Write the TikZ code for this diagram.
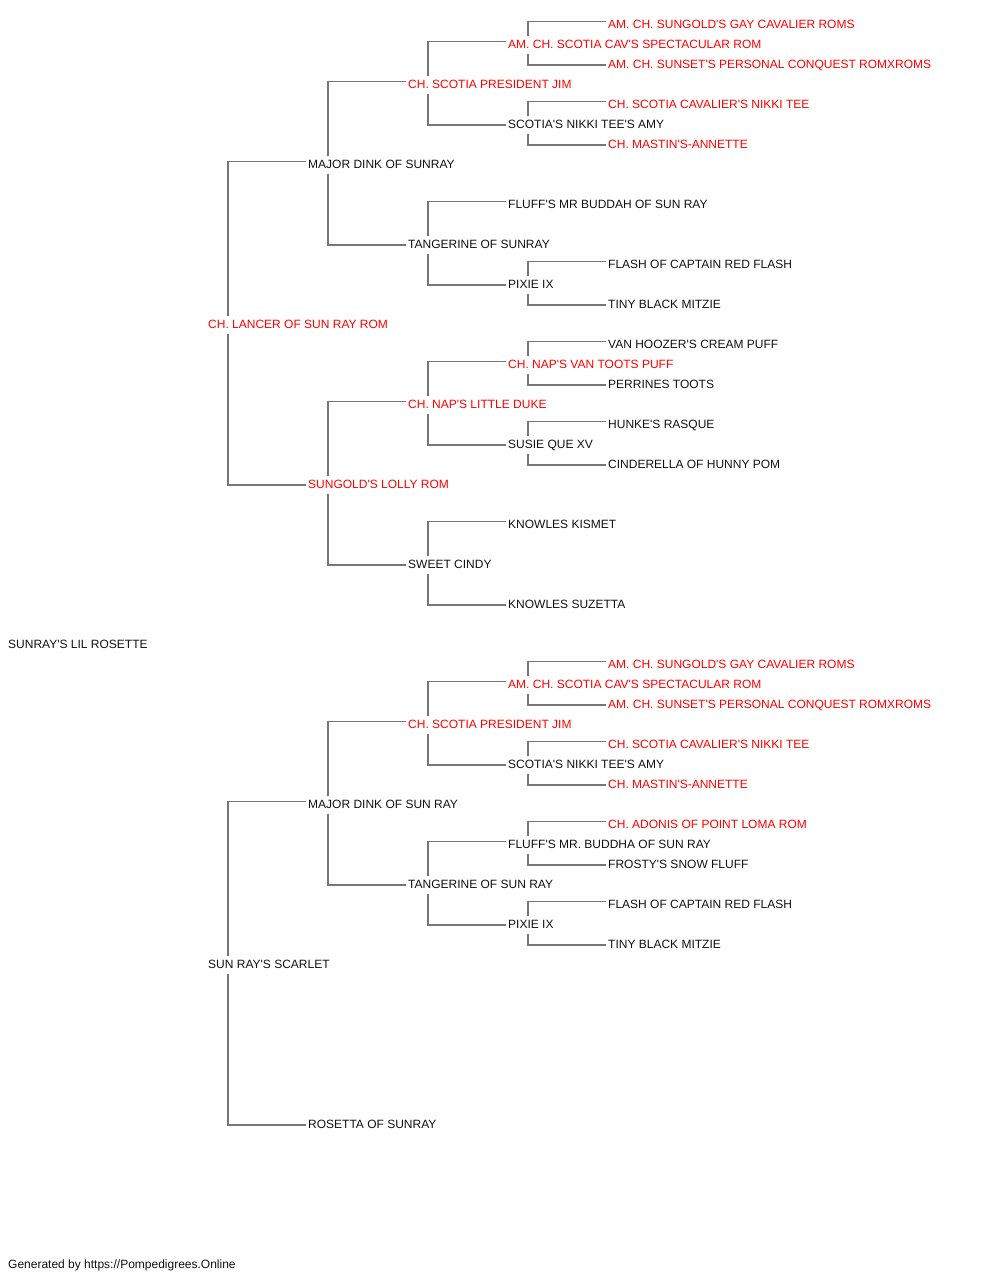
\documentclass[tikz,border=0pt]{standalone}
\usepackage{fontspec}
\setmainfont{Liberation Sans}[Ligatures=TeXOff]
\usetikzlibrary{positioning}
\definecolor{linegray}{RGB}{118,118,118}
\definecolor{champred}{RGB}{255,0,0}
\definecolor{dogblack}{RGB}{17,17,17}
\tikzset{
  dog/.style={
    anchor=base west,
    inner xsep=2pt,
    inner ysep=0pt,
    text height=11.8pt,
    text depth=6.2pt,
    text=dogblack,
    font=\fontsize{12}{14}\selectfont
  },
  champ/.style={dog, text=champred},
  link/.style={draw=linegray, line width=1.5pt}
}
\begin{document}
\begin{tikzpicture}[x=1pt, y=-1pt]
  \useasboundingbox (0,0) rectangle (1000,1280);

  % generation 0 and 1
  \node[dog] (p) at (6,648) {SUNRAY'S LIL ROSETTE};
  \node[champ] (s) at (206,328) {CH. LANCER OF SUN RAY ROM};
  \node[dog] (d) at (206,968) {SUN RAY'S SCARLET};

  % generation 2
  \node[dog] (ss) at (306,168) {MAJOR DINK OF SUNRAY};
  \node[champ] (sd) at (306,488) {SUNGOLD'S LOLLY ROM};
  \node[dog] (ds) at (306,808) {MAJOR DINK OF SUN RAY};
  \node[dog] (dd) at (306,1128) {ROSETTA OF SUNRAY};

  % generation 3
  \node[champ] (sss) at (406,88) {CH. SCOTIA PRESIDENT JIM};
  \node[dog] (ssd) at (406,248) {TANGERINE OF SUNRAY};
  \node[champ] (sds) at (406,408) {CH. NAP'S LITTLE DUKE};
  \node[dog] (sdd) at (406,568) {SWEET CINDY};
  \node[champ] (dss) at (406,728) {CH. SCOTIA PRESIDENT JIM};
  \node[dog] (dsd) at (406,888) {TANGERINE OF SUN RAY};

  % generation 4
  \node[champ] (ssss) at (506,48) {AM. CH. SCOTIA CAV'S SPECTACULAR ROM};
  \node[dog] (sssd) at (506,128) {SCOTIA'S NIKKI TEE'S AMY};
  \node[dog] (ssds) at (506,208) {FLUFF'S MR BUDDAH OF SUN RAY};
  \node[dog] (ssdd) at (506,288) {PIXIE IX};
  \node[champ] (sdss) at (506,368) {CH. NAP'S VAN TOOTS PUFF};
  \node[dog] (sdsd) at (506,448) {SUSIE QUE XV};
  \node[dog] (sdds) at (506,528) {KNOWLES KISMET};
  \node[dog] (sddd) at (506,608) {KNOWLES SUZETTA};
  \node[champ] (dsss) at (506,688) {AM. CH. SCOTIA CAV'S SPECTACULAR ROM};
  \node[dog] (dssd) at (506,768) {SCOTIA'S NIKKI TEE'S AMY};
  \node[dog] (dsds) at (506,848) {FLUFF'S MR. BUDDHA OF SUN RAY};
  \node[dog] (dsdd) at (506,928) {PIXIE IX};

  % generation 5
  \node[champ] (sssss) at (606,28) {AM. CH. SUNGOLD'S GAY CAVALIER ROMS};
  \node[champ] (ssssd) at (606,68) {AM. CH. SUNSET'S PERSONAL CONQUEST ROMXROMS};
  \node[champ] (sssds) at (606,108) {CH. SCOTIA CAVALIER'S NIKKI TEE};
  \node[champ] (sssdd) at (606,148) {CH. MASTIN'S-ANNETTE};
  \node[dog] (ssdds) at (606,268) {FLASH OF CAPTAIN RED FLASH};
  \node[dog] (ssddd) at (606,308) {TINY BLACK MITZIE};
  \node[dog] (sdsss) at (606,348) {VAN HOOZER'S CREAM PUFF};
  \node[dog] (sdssd) at (606,388) {PERRINES TOOTS};
  \node[dog] (sdsds) at (606,428) {HUNKE'S RASQUE};
  \node[dog] (sdsdd) at (606,468) {CINDERELLA OF HUNNY POM};
  \node[champ] (dssss) at (606,668) {AM. CH. SUNGOLD'S GAY CAVALIER ROMS};
  \node[champ] (dsssd) at (606,708) {AM. CH. SUNSET'S PERSONAL CONQUEST ROMXROMS};
  \node[champ] (dssds) at (606,748) {CH. SCOTIA CAVALIER'S NIKKI TEE};
  \node[champ] (dssdd) at (606,788) {CH. MASTIN'S-ANNETTE};
  \node[champ] (dsdss) at (606,828) {CH. ADONIS OF POINT LOMA ROM};
  \node[dog] (dsdsd) at (606,868) {FROSTY'S SNOW FLUFF};
  \node[dog] (dsdds) at (606,908) {FLASH OF CAPTAIN RED FLASH};
  \node[dog] (dsddd) at (606,948) {TINY BLACK MITZIE};

  \node[dog] (credit) at (6,1268) {Generated by https://Pompedigrees.Online};

  % sire and dam brackets
  \draw[link] ([xshift=22pt]s.north west) |- ([yshift=3.5pt]ss.west);
  \draw[link] ([xshift=22pt]s.south west) |- (sd.west);
  \draw[link] ([xshift=22pt]d.north west) |- ([yshift=3.5pt]ds.west);
  \draw[link] ([xshift=22pt]d.south west) |- (dd.west);

  \draw[link] ([xshift=22pt]ss.north west) |- ([yshift=3.5pt]sss.west);
  \draw[link] ([xshift=22pt]ss.south west) |- (ssd.west);
  \draw[link] ([xshift=22pt]sd.north west) |- ([yshift=3.5pt]sds.west);
  \draw[link] ([xshift=22pt]sd.south west) |- (sdd.west);
  \draw[link] ([xshift=22pt]ds.north west) |- ([yshift=3.5pt]dss.west);
  \draw[link] ([xshift=22pt]ds.south west) |- (dsd.west);

  \draw[link] ([xshift=22pt]sss.north west) |- ([yshift=3.5pt]ssss.west);
  \draw[link] ([xshift=22pt]sss.south west) |- (sssd.west);
  \draw[link] ([xshift=22pt]ssd.north west) |- ([yshift=3.5pt]ssds.west);
  \draw[link] ([xshift=22pt]ssd.south west) |- (ssdd.west);
  \draw[link] ([xshift=22pt]sds.north west) |- ([yshift=3.5pt]sdss.west);
  \draw[link] ([xshift=22pt]sds.south west) |- (sdsd.west);
  \draw[link] ([xshift=22pt]sdd.north west) |- ([yshift=3.5pt]sdds.west);
  \draw[link] ([xshift=22pt]sdd.south west) |- (sddd.west);
  \draw[link] ([xshift=22pt]dss.north west) |- ([yshift=3.5pt]dsss.west);
  \draw[link] ([xshift=22pt]dss.south west) |- (dssd.west);
  \draw[link] ([xshift=22pt]dsd.north west) |- ([yshift=3.5pt]dsds.west);
  \draw[link] ([xshift=22pt]dsd.south west) |- (dsdd.west);

  \draw[link] ([xshift=22pt]ssss.north west) |- ([yshift=3.5pt]sssss.west);
  \draw[link] ([xshift=22pt]ssss.south west) |- (ssssd.west);
  \draw[link] ([xshift=22pt]sssd.north west) |- ([yshift=3.5pt]sssds.west);
  \draw[link] ([xshift=22pt]sssd.south west) |- (sssdd.west);
  \draw[link] ([xshift=22pt]ssdd.north west) |- ([yshift=3.5pt]ssdds.west);
  \draw[link] ([xshift=22pt]ssdd.south west) |- (ssddd.west);
  \draw[link] ([xshift=22pt]sdss.north west) |- ([yshift=3.5pt]sdsss.west);
  \draw[link] ([xshift=22pt]sdss.south west) |- (sdssd.west);
  \draw[link] ([xshift=22pt]sdsd.north west) |- ([yshift=3.5pt]sdsds.west);
  \draw[link] ([xshift=22pt]sdsd.south west) |- (sdsdd.west);
  \draw[link] ([xshift=22pt]dsss.north west) |- ([yshift=3.5pt]dssss.west);
  \draw[link] ([xshift=22pt]dsss.south west) |- (dsssd.west);
  \draw[link] ([xshift=22pt]dssd.north west) |- ([yshift=3.5pt]dssds.west);
  \draw[link] ([xshift=22pt]dssd.south west) |- (dssdd.west);
  \draw[link] ([xshift=22pt]dsds.north west) |- ([yshift=3.5pt]dsdss.west);
  \draw[link] ([xshift=22pt]dsds.south west) |- (dsdsd.west);
  \draw[link] ([xshift=22pt]dsdd.north west) |- ([yshift=3.5pt]dsdds.west);
  \draw[link] ([xshift=22pt]dsdd.south west) |- (dsddd.west);
\end{tikzpicture}
\end{document}
